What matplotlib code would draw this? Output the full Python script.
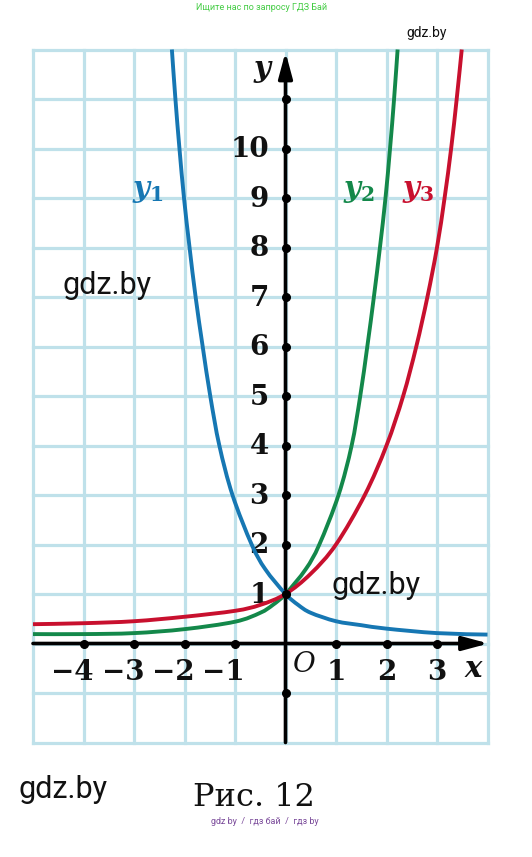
import matplotlib
matplotlib.use("Agg")
import matplotlib.pyplot as plt
from matplotlib.path import Path
from matplotlib.patches import PathPatch
import numpy as np

# curve points (x, y)
y1_x = [-2.25, -2.18, -2.10, -2.01, -1.90, -1.78, -1.64, -1.49, -1.31, -1.05, -0.67, -0.40, 0.0, 0.25, 0.5, 1.0, 1.5, 2.0, 3.0, 4.0]
y1_y = [12.0, 11.0, 10.0, 9.0, 8.0, 7.0, 6.0, 5.0, 4.0, 3.0, 2.0, 1.5, 1.0, 0.78, 0.62, 0.45, 0.37, 0.30, 0.21, 0.18]

y2_x = [-5.0, -4.0, -3.0, -2.0, -1.0, -0.5, -0.25, 0.0, 0.40, 0.67, 1.05, 1.31, 1.48, 1.62, 1.75, 1.87, 1.98, 2.07, 2.15, 2.22]
y2_y = [0.19, 0.19, 0.21, 0.29, 0.44, 0.62, 0.78, 1.0, 1.5, 2.0, 3.0, 4.0, 5.0, 6.0, 7.0, 8.0, 9.0, 10.0, 11.0, 12.0]

y3_x = [-5.0, -4.0, -3.0, -2.0, -1.0, -0.5, 0.0, 0.5, 1.0, 1.57, 2.00, 2.33, 2.59, 2.81, 3.00, 3.15, 3.28, 3.39, 3.49]
y3_y = [0.39, 0.41, 0.45, 0.54, 0.66, 0.78, 1.0, 1.41, 2.0, 3.0, 4.0, 5.0, 6.0, 7.0, 8.0, 9.0, 10.0, 11.0, 12.0]

x_ticks = [-4, -3, -2, -1, 1, 2, 3]
x_tick_labels = ["\u22124", "\u22123", "\u22122", "\u22121", "1", "2", "3"]
y_ticks = [1, 2, 3, 4, 5, 6, 7, 8, 9, 10, 11, -1]
y_tick_labels = ["1", "2", "3", "4", "5", "6", "7", "8", "9", "10", "", ""]

blue = "#1677b3"
green = "#13884a"
red = "#c8102e"
gridc = "#bfe1ea"


def smooth_path(xs, ys):
    # catmull-rom through the read points, drawn as bezier segments
    p = np.column_stack([xs, ys])
    verts = [p[0]]
    codes = [Path.MOVETO]
    n = len(p)
    for i in range(n - 1):
        p0 = p[i - 1] if i > 0 else p[i]
        p3 = p[i + 2] if i + 2 < n else p[i + 1]
        c1 = p[i] + (p[i + 1] - p0) / 6
        c2 = p[i + 1] - (p3 - p[i]) / 6
        verts += [c1, c2, p[i + 1]]
        codes += [Path.CURVE4] * 3
    return Path(verts, codes)


W, H = 532, 857
fig = plt.figure(figsize=(W / 100, H / 100), dpi=100)
ax = fig.add_axes([0, 0, 1, 1])
ax.axis("off")

# pixel -> data mapping: x_px = 285.5 + 50.5x, y_px = 643.5 - 49.5y
ax.set_xlim(-285.5 / 50.5, (W - 285.5) / 50.5)
ax.set_ylim(-(H - 643.5) / 49.5, 643.5 / 49.5)

plt.rcParams["mathtext.fontset"] = "custom"
plt.rcParams["mathtext.it"] = "DejaVu Serif:italic:bold"
plt.rcParams["mathtext.rm"] = "DejaVu Serif:bold"

# grid
for gx in range(-5, 5):
    ax.plot([gx, gx], [-2, 12], color=gridc, lw=2.3, solid_capstyle="projecting", zorder=1)
for gy in range(-2, 13):
    ax.plot([-5, 4], [gy, gy], color=gridc, lw=2.3, solid_capstyle="projecting", zorder=1)

# axes with arrows
arrow = dict(arrowstyle="-|>,head_length=1.3,head_width=0.35", lw=2.6,
             color="black", shrinkA=0, shrinkB=0, mutation_scale=12)
ax.annotate("", xy=(4.02, 0), xytext=(-5, 0), arrowprops=arrow, zorder=3)
ax.annotate("", xy=(0, 11.95), xytext=(0, -2), arrowprops=arrow, zorder=3)

# tick dots
ax.plot(x_ticks, [0] * len(x_ticks), "o", color="black", ms=5.5, zorder=6)
ax.plot([0] * len(y_ticks), y_ticks, "o", color="black", ms=5.5, zorder=6)

tick_font = dict(family="DejaVu Serif", fontweight="bold", fontsize=20, color="#111111", zorder=2)
for t, lab in zip(x_ticks, x_tick_labels):
    if t < 0:
        ax.text(t + 0.2, -0.58, lab, ha="right", va="center", **tick_font)
    else:
        ax.text(t, -0.58, lab, ha="center", va="center", **tick_font)
for t, lab in zip(y_ticks, y_tick_labels):
    if lab:
        ax.text(-0.33, t - 0.03, lab, ha="right", va="center", **tick_font)

ax.text(0.38, -0.42, "O", ha="center", va="center", family="DejaVu Serif",
        style="italic", fontsize=20, color="#111111", zorder=2)
ax.text(3.72, -0.5, "x", ha="center", va="center", family="DejaVu Serif",
        style="italic", fontweight="bold", fontsize=21, color="#111111", zorder=2)
ax.text(-0.46, 11.62, "y", ha="center", va="center", family="DejaVu Serif",
        style="italic", fontweight="bold", fontsize=21, color="#111111", zorder=2)

# curves
for xs, ys, c in [(y1_x, y1_y, blue), (y2_x, y2_y, green), (y3_x, y3_y, red)]:
    ax.add_patch(PathPatch(smooth_path(xs, ys), facecolor="none", edgecolor=c,
                           lw=2.8, joinstyle="round", capstyle="butt", zorder=4))

ax.text(-2.72, 9.15, "$y_1$", color=blue, ha="center", va="center", fontsize=21, zorder=5)
ax.text(1.45, 9.15, "$y_2$", color=green, ha="center", va="center", fontsize=21, zorder=5)
ax.text(2.62, 9.15, "$y_3$", color=red, ha="center", va="center", fontsize=21, zorder=5)

# caption and watermarks
fig.text(254 / W, 1 - 797 / H, "Рис. 12", family="DejaVu Serif", fontsize=23,
         ha="center", va="center", color="#111111")
wm = dict(family="Roboto", color="#111111", ha="center", va="center")
fig.text(107 / W, 1 - 286 / H, "gdz.by", fontsize=22, **wm)
fig.text(376 / W, 1 - 585 / H, "gdz.by", fontsize=22, **wm)
fig.text(63 / W, 1 - 789 / H, "gdz.by", fontsize=22, **wm)
fig.text(427 / W, 1 - 33 / H, "gdz.by", fontsize=10, **wm)
fig.text(262 / W, 1 - 7 / H, "Ищите нас по запросу ГДЗ Бай", family="Roboto", fontsize=6.5,
         color="#44cc44", ha="center", va="center")
fig.text(265 / W, 1 - 822 / H, "gdz by  /  гдз бай  /  гдз by", family="Roboto", fontsize=6.5,
         color="#7a4a9a", ha="center", va="center")

fig.savefig("out.png", dpi=100)
